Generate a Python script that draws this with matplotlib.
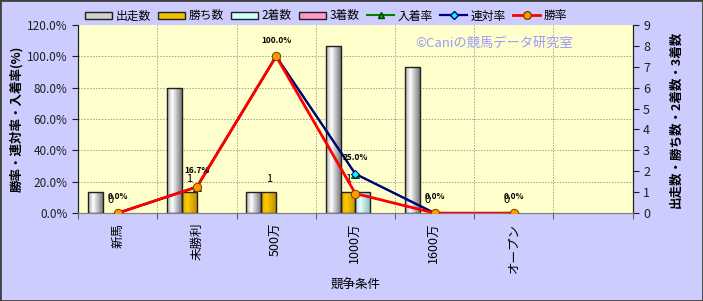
import numpy as np
import matplotlib
matplotlib.use("Agg")
import matplotlib.pyplot as plt
from matplotlib.colors import LinearSegmentedColormap
from matplotlib.patches import Rectangle, Patch
from matplotlib.lines import Line2D
from matplotlib.ticker import PercentFormatter

plt.rcParams['font.family'] = ['Noto Sans CJK JP', 'DejaVu Sans']

# data
categories = ['新馬', '未勝利', '500万', '1000万', '1600万', 'オープン']
starts = [1, 6, 1, 8, 7, 0]       # 出走数
wins = [0, 1, 1, 1, 0, 0]         # 勝ち数
seconds = [0, 0, 0, 1, 0, 0]      # 2着数
thirds = [0, 0, 0, 0, 0, 0]       # 3着数
win_rate = [0.0, 0.167, 1.0, 0.125, 0.0, 0.0]     # 勝率
rentai_rate = [0.0, 0.167, 1.0, 0.25, 0.0, 0.0]   # 連対率
place_rate = [0.0, 0.167, 1.0, 0.25, 0.0, 0.0]    # 入着率
n_slots = 7


def cyl_cmap(name, edge_l, mid, edge_r):
    return LinearSegmentedColormap.from_list(
        name, [(0, edge_l), (0.35, mid), (1, edge_r)])


def shade_bars(ax, bars, cmap, z):
    """paint a horizontal gradient inside each bar"""
    grad = np.linspace(0, 1, 64).reshape(1, -1)
    for p in bars:
        h = p.get_height()
        if h <= 0:
            p.set_visible(False)
            continue
        x0 = p.get_x()
        im = ax.imshow(grad, extent=[x0, x0 + p.get_width(), 0, h],
                       aspect='auto', cmap=cmap, zorder=z, interpolation='bilinear')
        im.set_clip_path(p)


fig = plt.figure(figsize=(7.03, 3.01), dpi=100, facecolor='#CCCCFF')
fig.subplots_adjust(left=0.111, right=0.900, bottom=0.292, top=0.917)
ax = fig.add_subplot(111)          # counts (right axis), bars
ax.set_facecolor('#FFFFCC')
ax2 = ax.twinx()                   # rates (left axis), lines

x = np.arange(len(categories))
w = 0.1875
series = [
    (starts, '出走数', cyl_cmap('g', '#a8a8a8', '#ffffff', '#7a7a7a'), '#d0d0d0'),
    (wins, '勝ち数', cyl_cmap('y', '#d8a400', '#ffcc00', '#c09000'), '#f0c000'),
    (seconds, '2着数', cyl_cmap('c', '#a0d8d8', '#e8ffff', '#88c0c0'), '#ccffff'),
    (thirds, '3着数', cyl_cmap('p', '#d870a0', '#ffb8d8', '#c05888'), '#ff99cc'),
]
handles = []
win_bars = None
for k, (vals, name, cmap, col) in enumerate(series):
    pos = x + (k - 1.5) * w
    b = ax.bar(pos, vals, width=w, color=col, edgecolor='none', zorder=2)
    shade_bars(ax, b, cmap, 2.1)
    outl = ax.bar(pos, vals, width=w, fill=False, edgecolor='#202020', linewidth=1.0, zorder=2.2)
    for p in outl:
        if p.get_height() <= 0:
            p.set_visible(False)
    if k == 1:
        win_bars = (pos, vals)
    handles.append(Patch(facecolor=col, edgecolor='#202020', linewidth=1.0, label=name))

# labels on 勝ち数
for px, v in zip(*win_bars):
    ax.annotate(str(v), (px, v), xytext=(0, 6), textcoords='offset points',
                ha='center', va='bottom', fontsize=8, zorder=5)

ax.set_xlim(-0.5, n_slots - 0.5)
ax.set_ylim(0, 9)
ax.set_yticks(range(0, 10))
ax.yaxis.tick_right()
ax.yaxis.set_label_position('right')

# grid
ax.set_xticks(x)
ax.set_xticks(np.arange(-0.5, n_slots), minor=True)
ax.grid(True, which='minor', axis='x', color='#a0a0a0', linestyle=(0, (1.5, 1.5)), linewidth=0.7, zorder=0)
pct_ticks = np.arange(0, 1.21, 0.2)
for t in pct_ticks[1:-1]:
    ax.axhline(t / 1.2 * 9, color='#a0a0a0', linestyle=(0, (1.5, 1.5)), linewidth=0.7, zorder=0)
ax.set_axisbelow(True)

ax.set_xticklabels(categories, rotation=90, fontsize=9)
ax.tick_params(axis='x', which='major', length=0, pad=7)
ax.tick_params(axis='x', which='minor', length=4, direction='out', color='#404040')
ax.tick_params(axis='y', labelsize=9, length=4, direction='out', colors='#202020')

# lines
ax2.plot(x, place_rate, color='#008000', lw=1.5, marker='^', ms=5.5,
         mfc='#00B000', mec='#004000', mew=0.7, zorder=3, label='入着率')
ax2.plot(x, rentai_rate, color='#000080', lw=1.6, marker='D', ms=4.5,
         mfc='#00FFFF', mec='#000080', mew=0.7, zorder=4, label='連対率')
ax2.plot(x, win_rate, color='#FF0000', lw=2.0, marker='o', ms=6,
         mfc='#FF9900', mec='#804000', mew=0.7, zorder=5, label='勝率')
for px, v in zip(x, place_rate):
    ax2.annotate('%.1f%%' % (v * 100), (px, v), xytext=(0, 8.5), textcoords='offset points',
                 ha='center', va='bottom', fontsize=6, fontweight='bold', zorder=6)

ax2.set_ylim(0, 1.2)
ax2.set_yticks(pct_ticks)
ax2.yaxis.set_major_formatter(PercentFormatter(1.0, decimals=1))
ax2.yaxis.tick_left()
ax2.yaxis.set_label_position('left')
ax2.tick_params(axis='y', labelsize=8.5, length=4, direction='out', colors='#202020')

for a in (ax, ax2):
    a.spines['top'].set_visible(False)
    a.spines['left'].set_color('#202020')
    a.spines['right'].set_color('#202020')
    a.spines['bottom'].set_color('#808080')

ax2.set_ylabel('勝率・連対率・入着率(%)', fontsize=9, fontweight='bold', labelpad=3)
ax.set_ylabel('出走数・勝ち数・2着数・3着数', fontsize=9, fontweight='bold',
              rotation=90, labelpad=14)
ax.set_xlabel('競争条件', fontsize=9, labelpad=4)

ax.text(0.75, 0.9, '©Caniの競馬データ研究室', transform=ax.transAxes,
        ha='center', va='center', fontsize=9.5, color='#9999FF', zorder=1)

line_handles = [Line2D([], [], color='#008000', lw=1.5, marker='^', ms=5, mfc='#00B000', mec='#004000'),
                Line2D([], [], color='#000080', lw=1.6, marker='D', ms=4, mfc='#00FFFF', mec='#000080'),
                Line2D([], [], color='#FF0000', lw=2.0, marker='o', ms=5.5, mfc='#FF9900', mec='#804000')]
labels = [s[1] for s in series] + ['入着率', '連対率', '勝率']
fig.legend(handles + line_handles, labels, loc='center', bbox_to_anchor=(0.464, 0.947),
           ncol=7, frameon=False, fontsize=8.5, handlelength=2.3, handleheight=0.6,
           handletextpad=0.3, columnspacing=0.6)

fig.patches.append(Rectangle((0, 0), 1, 1, transform=fig.transFigure, fill=False,
                             edgecolor='#404040', linewidth=2))

fig.savefig('out.png', dpi=100, facecolor=fig.get_facecolor())
